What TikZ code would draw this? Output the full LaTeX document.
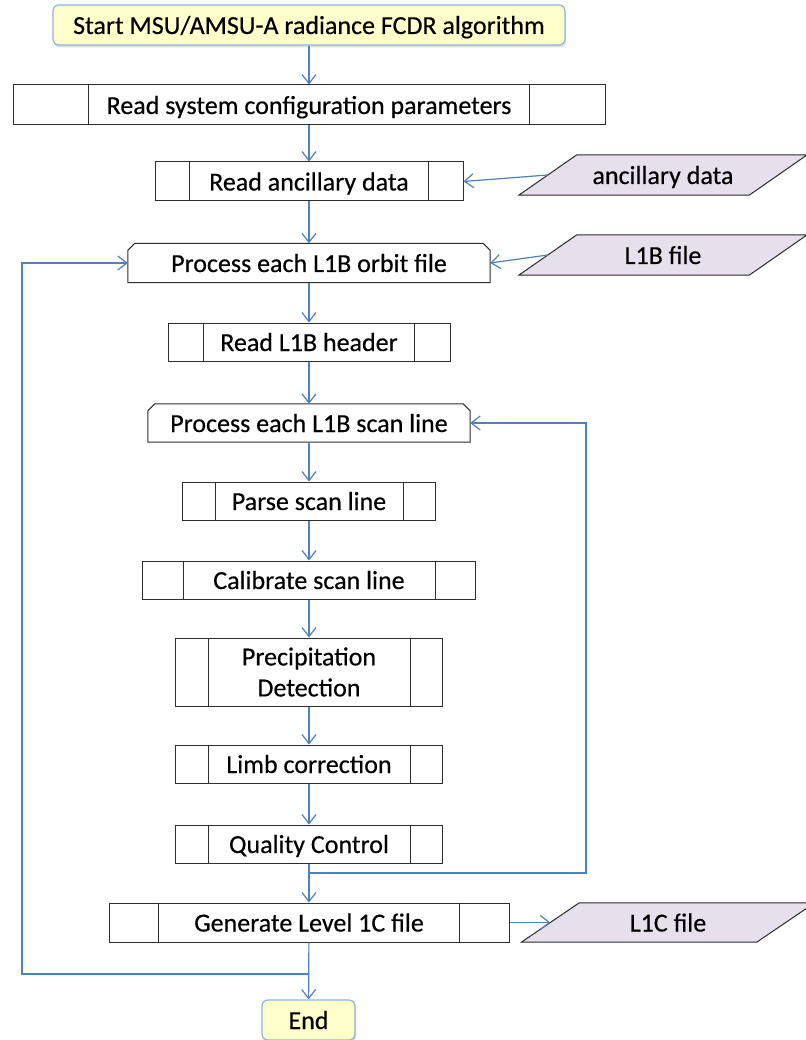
\documentclass[tikz,border=0pt]{standalone}
\usepackage{fontspec}
\setmainfont{Carlito}[FakeBold=0.4]
\usetikzlibrary{arrows.meta,shadows,backgrounds}

\definecolor{flow}{RGB}{79,129,189}
\definecolor{termfill}{RGB}{255,255,204}
\definecolor{termline}{RGB}{141,180,226}
\definecolor{iofill}{RGB}{229,224,236}
\definecolor{boxline}{RGB}{45,45,45}

\tikzset{
  txt/.style={font=\fontsize{26}{31}\selectfont, align=center, inner sep=0pt},
  oneline/.style={text height=20pt, text depth=2pt},
  term/.style={txt, oneline, draw=termline, line width=1.2pt, fill=termfill, rounded corners=6pt,
    drop shadow={shadow xshift=1pt, shadow yshift=-2.5pt, opacity=0.25}},
  proc/.style={txt, draw=boxline, line width=1pt, fill=white},
  plain/.style={txt, oneline},
  boxdraw/.style={draw=boxline, line width=1pt},
  flowline/.style={draw=flow, line width=1.2pt},
  arr/.style={flowline, -{Straight Barb[length=9pt,width=14pt,line width=1.2pt]}}
}

% predefined-process side bars
\newcommand\sidebars[2]{%
  \draw[boxdraw] ([xshift=#2]#1.north west) -- ([xshift=#2]#1.south west)
                 ([xshift=-#2]#1.north east) -- ([xshift=-#2]#1.south east);}
% loop-limit box with cut top corners
\newcommand\limitbox[1]{%
  \draw[boxdraw, fill=white] (#1.south west) -- ([yshift=-7pt]#1.north west)
    -- ([xshift=7pt]#1.north west) -- ([xshift=-7pt]#1.north east)
    -- ([yshift=-7pt]#1.north east) -- (#1.south east) -- cycle;}
% data parallelogram
\newcommand\databox[1]{%
  \draw[boxdraw, fill=iofill] ([xshift=-29pt]#1.south west) -- ([xshift=29pt]#1.north west)
    -- ([xshift=29pt]#1.north east) -- ([xshift=-29pt]#1.south east) -- cycle;}

\begin{document}
\begin{tikzpicture}[x=1pt, y=-1pt]
\useasboundingbox (0,0) rectangle (805,1040);

% main column
\node[term, minimum width=512pt, minimum height=40pt] (start) at (309,25) {Start MSU/AMSU-A radiance FCDR algorithm};
\node[proc, oneline, minimum width=592pt, minimum height=40pt] (sys) at (309,105) {Read system configuration parameters};
\node[proc, oneline, minimum width=308pt, minimum height=39pt] (anc) at (309,181.5) {Read ancillary data};
\node[plain, minimum width=362pt, minimum height=39pt] (orbit) at (309,263) {Process each L1B orbit file};
\node[proc, oneline, minimum width=282pt, minimum height=38pt] (hdr) at (309,342) {Read L1B header};
\node[plain, minimum width=322pt, minimum height=38pt] (scan) at (309,423) {Process each L1B scan line};
\node[proc, oneline, minimum width=253pt, minimum height=38pt] (parse) at (309,501) {Parse scan line};
\node[proc, oneline, minimum width=333pt, minimum height=38pt] (calib) at (309,580) {Calibrate scan line};
\node[proc, minimum width=267pt, minimum height=68pt] (precip) at (309,672) {Precipitation\\Detection};
\node[proc, oneline, minimum width=267pt, minimum height=38pt] (limb) at (309,764) {Limb correction};
\node[proc, oneline, minimum width=267pt, minimum height=38pt] (qc) at (309,844) {Quality Control};
\node[proc, oneline, minimum width=400pt, minimum height=39pt] (gen) at (309,922.5) {Generate Level 1C file};
\node[term, minimum width=93pt, minimum height=40pt] (end) at (308.5,1020) {End};

% data inputs and output
\node[plain, minimum width=230pt, minimum height=40pt] (ancdata) at (663,175) {ancillary data};
\node[plain, minimum width=230pt, minimum height=40pt] (l1b) at (663,255) {L1B file};
\node[plain, minimum width=235pt, minimum height=39pt] (l1c) at (668,922.5) {L1C file};

\begin{scope}[on background layer]
  \fill[white] (0,0) rectangle (805,1040);
  \limitbox{orbit}
  \limitbox{scan}
  \databox{ancdata}
  \databox{l1b}
  \databox{l1c}
\end{scope}

\sidebars{sys}{76pt}
\sidebars{anc}{35pt}
\sidebars{hdr}{36pt}
\sidebars{parse}{33pt}
\sidebars{calib}{41pt}
\sidebars{precip}{33pt}
\sidebars{limb}{33pt}
\sidebars{qc}{33pt}
\sidebars{gen}{50pt}

% connectors
\draw[arr] (start) -- (sys);
\draw[arr] (sys) -- (anc);
\draw[arr] (anc) -- (orbit);
\draw[arr] (orbit) -- (hdr);
\draw[arr] (hdr) -- (scan);
\draw[arr] (scan) -- (parse);
\draw[arr] (parse) -- (calib);
\draw[arr] (calib) -- (precip);
\draw[arr] (precip) -- (limb);
\draw[arr] (limb) -- (qc);
\draw[arr] (qc) -- (gen);
\draw[arr] (gen) -- (end);

\draw[arr] (ancdata.west) -- (anc.east);
\draw[arr] (l1b.west) -- (orbit.east);
\draw[arr] (gen.east) -- (l1c.west);

% scan-line loop back
\coordinate (scanJoin) at (309,873);
\coordinate (scanTurn) at (586,873);
\draw[arr] (scanJoin) -- (scanTurn) |- (scan.east);

% orbit-file loop back
\coordinate (orbitJoin) at (309,974);
\coordinate (orbitTurn) at (22,974);
\draw[arr] (orbitJoin) -- (orbitTurn) |- (orbit.west);
\end{tikzpicture}
\end{document}
